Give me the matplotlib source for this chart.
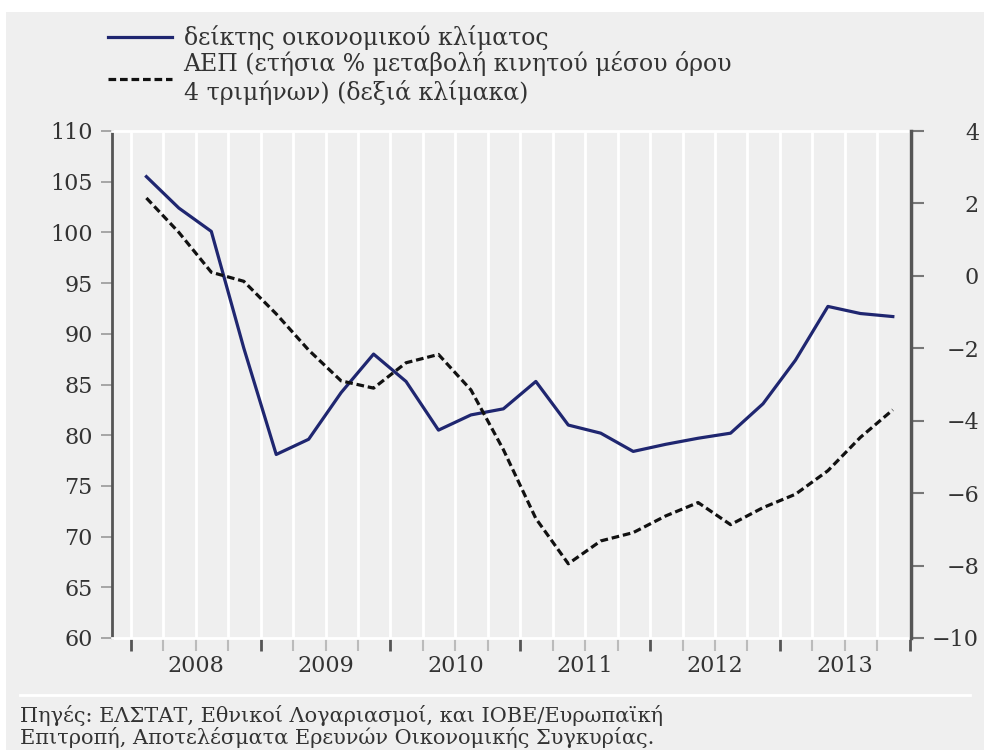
import matplotlib.pyplot as plt
from matplotlib.lines import Line2D
from matplotlib.patches import Rectangle

# quarterly data 2008Q1 - 2013Q4
years = [2008, 2009, 2010, 2011, 2012, 2013]
climate = [105.5, 102.4, 100.1, 88.6,
           78.1, 79.6, 84.2, 88.0,
           85.3, 80.5, 82.0, 82.6,
           85.3, 81.0, 80.2, 78.4,
           79.1, 79.7, 80.2, 83.1,
           87.4, 92.7, 92.0, 91.7]
gdp = [2.15, 1.2, 0.1, -0.15,
       -1.05, -2.05, -2.9, -3.1,
       -2.4, -2.17, -3.15, -4.8,
       -6.7, -7.95, -7.32, -7.09,
       -6.63, -6.26, -6.87, -6.4,
       -6.03, -5.38, -4.46, -3.7]
left_ticks = [60, 65, 70, 75, 80, 85, 90, 95, 100, 105, 110]
right_ticks = [-10, -8, -6, -4, -2, 0, 2, 4]

label_climate = 'δείκτης οικονομικού κλίματος'
label_gdp = 'ΑΕΠ (ετήσια % μεταβολή κινητού μέσου όρου\n4 τριμήνων) (δεξιά κλίμακα)'
source_lines = ['Πηγές: ΕΛΣΤΑΤ, Εθνικοί Λογαριασμοί, και ΙΟΒΕ/Ευρωπαϊκή',
                'Επιτροπή, Αποτελέσματα Ερευνών Οικονομικής Συγκυρίας.']

plt.rcParams['font.family'] = ['DejaVu Serif']

bg = '#efefef'
navy = '#1f2670'

x = [y + q / 4 + 0.12 for y in years for q in range(4)]

fig = plt.figure(figsize=(9.84, 7.5), dpi=100, facecolor='white')
fig.add_artist(Rectangle((6 / 984, 0), 1, 1 - 12 / 750, transform=fig.transFigure,
                         facecolor=bg, edgecolor='none', zorder=-10))

ax = fig.add_axes([112 / 984, 1 - 638 / 750, (911 - 112) / 984, (638 - 131) / 750])
ax.set_facecolor(bg)
ax.set_xlim(2007.855, 2014.01)
ax.set_ylim(60, 110)

# white quarter gridlines
quarters = [y + q / 4 for y in range(2008, 2014) for q in range(4)] + [2014]
for qx in quarters:
    ax.axvline(qx, color='white', lw=2, zorder=0)

ax.plot(x, climate, color=navy, lw=2.3, zorder=3)

ax.set_yticks(left_ticks)
ax.tick_params(axis='y', direction='out', length=8, width=1.2, color='#999999',
               pad=6, labelsize=16, labelcolor='#333333')

# x ticks: quarter marks, darker at year boundaries
ax.set_xticks([y for y in range(2008, 2015)])
ax.set_xticklabels([])
ax.set_xticks(quarters, minor=True)
ax.tick_params(axis='x', which='major', direction='out', length=9, width=2, color='#555555')
ax.tick_params(axis='x', which='minor', direction='out', length=9, width=1.5, color='#bbbbbb')
for y in years:
    ax.text(y + 0.5, -0.033, str(y), transform=ax.get_xaxis_transform(),
            ha='center', va='top', fontsize=16, color='#333333')

for s in ['top', 'bottom']:
    ax.spines[s].set_color('white')
    ax.spines[s].set_linewidth(2)
ax.spines['left'].set_color('#555555')
ax.spines['left'].set_linewidth(2)

ax2 = ax.twinx()
ax2.set_ylim(-10, 4)
ax2.plot(x, gdp, color='#111111', lw=2.3, dashes=(2.4, 1.2), zorder=3)
ax2.set_yticks(right_ticks)
ax2.tick_params(axis='y', direction='out', length=9, width=1.5, color='#777777',
                pad=40, labelsize=16, labelcolor='#333333')
ax2.spines['right'].set_color('#555555')
ax2.spines['right'].set_linewidth(2.5)
for s in ['top', 'bottom', 'left']:
    ax2.spines[s].set_visible(False)

handles = [Line2D([], [], color=navy, lw=2.3),
           Line2D([], [], color='#111111', lw=2.3, dashes=(2.4, 1.2))]
fig.legend(handles, [label_climate, label_gdp], loc='upper left',
           bbox_to_anchor=(108 / 984, 1 - 25 / 750), frameon=False, fontsize=17,
           handlelength=2.7, handletextpad=0.5, labelspacing=0.05,
           borderpad=0, borderaxespad=0, labelcolor='#333333')

fig.add_artist(Line2D([20 / 984, 970 / 984], [1 - 695 / 750] * 2,
                      transform=fig.transFigure, color='white', lw=2))
for i, line in enumerate(source_lines):
    fig.text(20 / 984, 1 - (716 + 22 * i) / 750, line, ha='left', va='center',
             fontsize=15, color='#333333')

# right-hand labels are right aligned in the original
fig.canvas.draw()
for t in ax2.yaxis.get_major_ticks():
    t.label2.set_horizontalalignment('right')

fig.savefig('out.png', dpi=100, facecolor=fig.get_facecolor())
